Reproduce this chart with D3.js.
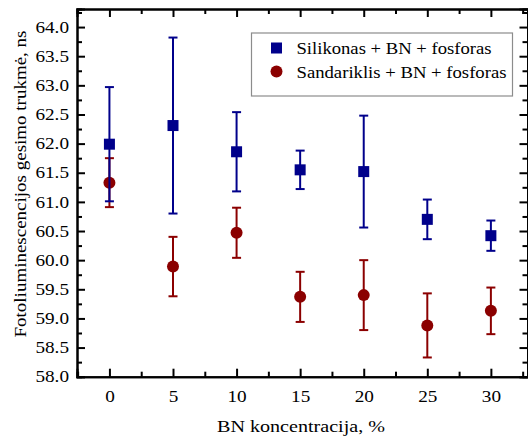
<!DOCTYPE html>
<html>
<head>
<meta charset="utf-8">
<script src="https://cdn.jsdelivr.net/npm/d3@7"></script>
<style>
  body { margin: 0; background: #fff; }
  text { font-family: "Liberation Serif", "Times New Roman", serif; fill: #000; }
</style>
</head>
<body>
<div id="plot"></div>
<script>
// data
var concentrations = [0, 5, 10, 15, 20, 25, 30];
var silikonas = [61.99, 62.31, 61.86, 61.55, 61.52, 60.70, 60.42];
var silikonasErr = [0.98, 1.51, 0.68, 0.33, 0.96, 0.34, 0.26];
var sandariklis = [61.33, 59.89, 60.47, 59.37, 59.40, 58.88, 59.13];
var sandariklisErr = [0.42, 0.51, 0.43, 0.43, 0.60, 0.55, 0.40];
var xTicks = [0, 5, 10, 15, 20, 25, 30];
var yTicks = [58.0, 58.5, 59.0, 59.5, 60.0, 60.5, 61.0, 61.5, 62.0, 62.5, 63.0, 63.5, 64.0];
var seriesNames = ["Silikonas + BN + fosforas", "Sandariklis + BN + fosforas"];

var W = 528, H = 438;
var pLeft = 77, pRight = 527.5, pTop = 9, pBottom = 376.7;
var stretch = 1.2; // glyphs in the picture are a bit wider than tall

var svg = d3.select("#plot").append("svg")
    .attr("width", W)
    .attr("height", H);

var x = d3.scaleLinear().domain([-2.55, 32.88]).range([pLeft, pRight]);
var y = d3.scaleLinear().domain([58, 64.31]).range([pBottom, pTop]);

var minorX = d3.range(-2.5, 33, 2.5).filter(function (d) { return xTicks.indexOf(d) < 0; });
var minorY = d3.range(58.25, 64.3, 0.5);

// axes, ticks pointing inward
var gx = svg.append("g").attr("transform", "translate(0," + pBottom + ")")
    .call(d3.axisBottom(x).tickValues(xTicks).tickSize(-8).tickPadding(14).tickFormat(d3.format("d")));
gx.append("g").call(d3.axisBottom(x).tickValues(minorX).tickSize(-5).tickFormat(""));

var gxTop = svg.append("g").attr("transform", "translate(0," + pTop + ")")
    .call(d3.axisTop(x).tickValues(xTicks).tickSize(-8).tickFormat(""));
gxTop.append("g").call(d3.axisTop(x).tickValues(minorX).tickSize(-5).tickFormat(""));

var gy = svg.append("g").attr("transform", "translate(" + pLeft + ",0)")
    .call(d3.axisLeft(y).tickValues(yTicks).tickSize(-8).tickPadding(8).tickFormat(d3.format(".1f")));
gy.append("g").call(d3.axisLeft(y).tickValues(minorY).tickSize(-5).tickFormat(""));

var gyR = svg.append("g").attr("transform", "translate(" + pRight + ",0)")
    .call(d3.axisRight(y).tickValues(yTicks).tickSize(-8).tickFormat(""));
gyR.append("g").call(d3.axisRight(y).tickValues(minorY).tickSize(-5).tickFormat(""));

svg.selectAll(".domain").attr("stroke", "#000").attr("stroke-width", 2);
svg.selectAll(".tick line").attr("stroke", "#000").attr("stroke-width", 2);
svg.selectAll(".tick text")
    .style("font-family", "'Liberation Serif', serif")
    .style("font-size", "16px")
    .attr("fill", "#000");
// widen tick labels like in the picture
gx.selectAll(".tick text").attr("transform", "scale(" + stretch + ",1)");
gy.selectAll(".tick text")
    .attr("x", -8 / stretch)
    .attr("transform", "scale(" + stretch + ",1)");

// series: red first, blue over it
function drawSeries(vals, errs, color, shape) {
    var g = svg.append("g");
    var pts = concentrations.map(function (c, i) { return {c: c, v: vals[i], e: errs[i]}; });
    g.selectAll("line.bar").data(pts).enter().append("line")
        .attr("x1", function (d) { return x(d.c); })
        .attr("x2", function (d) { return x(d.c); })
        .attr("y1", function (d) { return y(d.v - d.e); })
        .attr("y2", function (d) { return y(d.v + d.e); })
        .attr("stroke", color).attr("stroke-width", 2);
    [-1, 1].forEach(function (s) {
        g.selectAll(null).data(pts).enter().append("line")
            .attr("x1", function (d) { return x(d.c) - 4.5; })
            .attr("x2", function (d) { return x(d.c) + 4.5; })
            .attr("y1", function (d) { return y(d.v + s * d.e); })
            .attr("y2", function (d) { return y(d.v + s * d.e); })
            .attr("stroke", color).attr("stroke-width", 2);
    });
    if (shape === "square") {
        g.selectAll("rect").data(pts).enter().append("rect")
            .attr("x", function (d) { return x(d.c) - 5.5; })
            .attr("y", function (d) { return y(d.v) - 5.5; })
            .attr("width", 11).attr("height", 11)
            .attr("fill", color);
    } else {
        g.selectAll("circle").data(pts).enter().append("circle")
            .attr("cx", function (d) { return x(d.c); })
            .attr("cy", function (d) { return y(d.v); })
            .attr("r", 6)
            .attr("fill", color);
    }
}
drawSeries(sandariklis, sandariklisErr, "#8b0000", "circle");
drawSeries(silikonas, silikonasErr, "#00008b", "square");

// legend
var lg = svg.append("g");
lg.append("rect")
    .attr("x", 251.5).attr("y", 33).attr("width", 261).attr("height", 63)
    .attr("fill", "#fff").attr("stroke", "#8c8c8c").attr("stroke-width", 1.2);
lg.append("rect").attr("x", 271).attr("y", 42.5).attr("width", 11).attr("height", 11).attr("fill", "#00008b");
lg.append("circle").attr("cx", 276.5).attr("cy", 71.5).attr("r", 6).attr("fill", "#8b0000");
var legLen = [195, 210];
lg.selectAll("text.leg").data(seriesNames).enter().append("text")
    .attr("x", 296.5)
    .attr("y", function (d, i) { return 54 + i * 23.5; })
    .attr("textLength", function (d, i) { return legLen[i]; })
    .attr("lengthAdjust", "spacingAndGlyphs")
    .style("font-size", "17px")
    .text(function (d) { return d; });

// axis titles
svg.append("text")
    .attr("text-anchor", "middle")
    .attr("x", 301).attr("y", 432)
    .attr("textLength", 168)
    .attr("lengthAdjust", "spacingAndGlyphs")
    .style("font-size", "17px")
    .text("BN koncentracija, %");

svg.append("text")
    .attr("text-anchor", "middle")
    .attr("transform", "translate(26,184) rotate(-90)")
    .attr("textLength", 307)
    .attr("lengthAdjust", "spacingAndGlyphs")
    .style("font-size", "17px")
    .text("Fotoliuminescencijos gesimo trukmė, ns");
</script>
</body>
</html>
